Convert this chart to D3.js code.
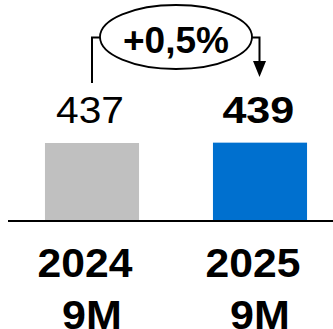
<!DOCTYPE html>
<html>
<head>
<meta charset="utf-8">
<script src="https://cdn.jsdelivr.net/npm/d3@7/dist/d3.min.js"></script>
<style>
  html, body { margin: 0; padding: 0; background: #fff; }
  svg { display: block; }
  text { font-family: "Liberation Sans", Arial, Helvetica, sans-serif; fill: #000; }
</style>
</head>
<body>
<svg id="chart" width="333" height="329"></svg>
<script>
// Nine-month totals, prior year vs current year
const categories = ["2024 9M", "2025 9M"];
const yearLabels = ["2024", "2025"];
const periodLabels = ["9M", "9M"];
const values = [437, 439];
const barColors = ["#c0c0c0", "#0070cf"];
const changeLabel = "+0,5%";

const W = 333, H = 329;
const baseY = 220;

const svg = d3.select("#chart");

const x = d3.scaleBand()
  .domain(categories)
  .range([8, 344])
  .paddingInner(0.44)
  .paddingOuter(0.22);

const y = d3.scaleLinear()
  .domain([0, 1000])
  .range([baseY, baseY - 176.2]);

const cx = c => x(c) + x.bandwidth() / 2;

// Bars
svg.selectAll("rect.bar")
  .data(values)
  .join("rect")
  .attr("class", "bar")
  .attr("x", (d, i) => x(categories[i]))
  .attr("y", d => y(d))
  .attr("width", x.bandwidth())
  .attr("height", d => y(0) - y(d))
  .attr("fill", (d, i) => barColors[i]);

// Baseline
svg.append("line")
  .attr("x1", 8).attr("x2", W)
  .attr("y1", baseY + 1).attr("y2", baseY + 1)
  .attr("stroke", "#000")
  .attr("stroke-width", 2.2);

// Value labels above bars (current year in bold, slightly widened type)
const valueStyle = [
  { weight: "normal", size: 37, sx: 1.10, dx: -2 },
  { weight: "bold", size: 36.5, sx: 1.18, dx: -1.7 }
];
svg.selectAll("g.value")
  .data(values)
  .join("g")
  .attr("class", "value")
  .attr("transform", (d, i) =>
    `translate(${cx(categories[i]) + valueStyle[i].dx},${y(d) - 20}) scale(${valueStyle[i].sx},1)`)
  .append("text")
  .attr("text-anchor", "middle")
  .attr("font-size", (d, i) => valueStyle[i].size)
  .attr("font-weight", (d, i) => valueStyle[i].weight)
  .text(d => d);

// Category labels below the baseline, two lines each
const cat = svg.selectAll("g.cat")
  .data(categories)
  .join("g")
  .attr("class", "cat");
cat.append("text")
  .attr("transform", d => `translate(${cx(d) - 7},277) scale(1.04,1)`)
  .attr("text-anchor", "middle")
  .attr("font-size", 41)
  .attr("font-weight", "bold")
  .text((d, i) => yearLabels[i]);
cat.append("text")
  .attr("transform", d => `translate(${cx(d)},329) scale(1.05,1)`)
  .attr("text-anchor", "middle")
  .attr("font-size", 41)
  .attr("font-weight", "bold")
  .text((d, i) => periodLabels[i]);

// Change callout: bracket from the first bar's label to an arrow over the second
const x0 = cx(categories[0]);
const x1 = cx(categories[1]) - 0.5;
const ell = { cx: 176, cy: 37, rx: 76, ry: 32 };
const bracketY = 37.5;

svg.append("path")
  .attr("d", `M${x0},83 V${bracketY} H${ell.cx - ell.rx}`)
  .attr("fill", "none")
  .attr("stroke", "#000")
  .attr("stroke-width", 2);

svg.append("path")
  .attr("d", `M${ell.cx + ell.rx},${bracketY} H${x1} V62`)
  .attr("fill", "none")
  .attr("stroke", "#000")
  .attr("stroke-width", 2);

svg.append("path")
  .attr("d", `M${x1 - 6.5},61 L${x1 + 6.5},61 L${x1},77 Z`)
  .attr("fill", "#000");

svg.append("ellipse")
  .attr("cx", ell.cx).attr("cy", ell.cy)
  .attr("rx", ell.rx).attr("ry", ell.ry)
  .attr("fill", "#fff")
  .attr("stroke", "#000")
  .attr("stroke-width", 1.8);

svg.append("text")
  .attr("x", ell.cx)
  .attr("y", 53)
  .attr("text-anchor", "middle")
  .attr("font-size", 37)
  .attr("font-weight", "bold")
  .text(changeLabel);
</script>
</body>
</html>
